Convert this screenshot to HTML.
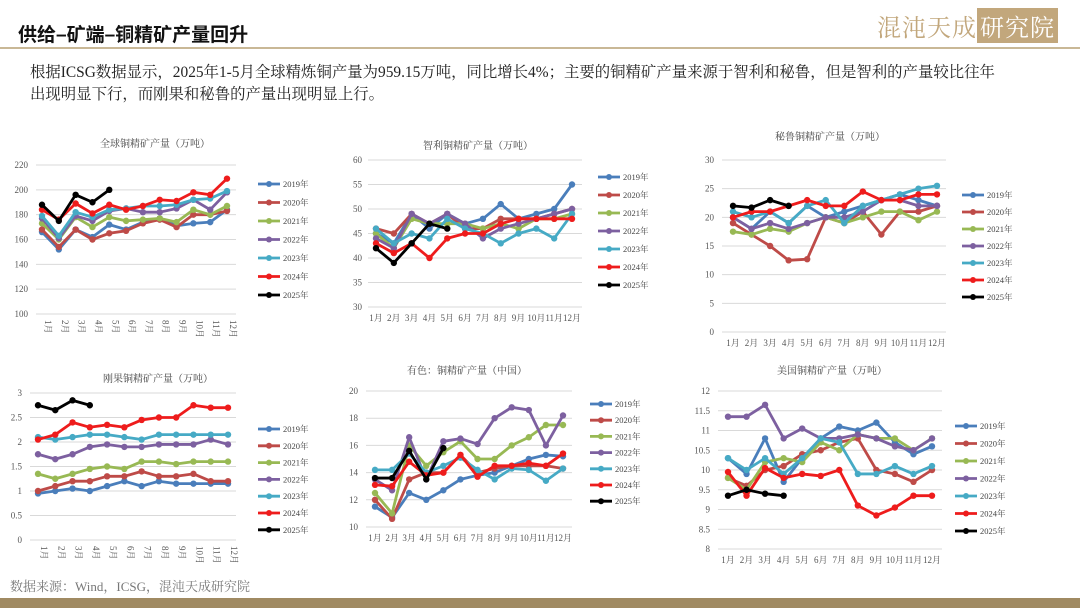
<!DOCTYPE html>
<html><head><meta charset="utf-8">
<style>
body{margin:0;width:1080px;height:608px;background:#fff;overflow:hidden;font-family:"Liberation Serif","Noto Serif CJK SC",serif;position:relative}
.t{position:absolute;left:18px;top:20px;font-size:19px;font-weight:bold;font-family:"Liberation Sans","Noto Sans CJK SC",sans-serif;color:#111}
.line{position:absolute;left:0;top:47px;width:1080px;height:2px;background:#c9b896}
.logo{position:absolute;right:22px;top:8px;height:30px;font-size:24px;color:#c2a77c;font-family:"Noto Serif CJK SC",serif;letter-spacing:1px}
.logo span{background:#c2a77c;color:#fff;padding:0 3px}
.p{position:absolute;left:30px;top:62px;font-size:15.4px;line-height:22px;color:#222;width:1040px;white-space:nowrap}
.src{position:absolute;left:10px;top:576px;font-size:13px;color:#777}
.bot{position:absolute;left:0;top:598px;width:1080px;height:10px;background:#a08a62}
svg{position:absolute;left:0;top:0}
</style></head><body>
<div class="t">供给–矿端–铜精矿产量回升</div>
<div class="line"></div>
<div class="logo">混沌天成<span>研究院</span></div>
<div class="p">根据ICSG数据显示，2025年1-5月全球精炼铜产量为959.15万吨，同比增长4%；主要的铜精矿产量来源于智利和秘鲁，但是智利的产量较比往年<br>出现明显下行，而刚果和秘鲁的产量出现明显上行。</div>
<div class="src">数据来源：Wind，ICSG，混沌天成研究院</div>
<div class="bot"></div>
<svg id="s" width="1080" height="608" font-family="Liberation Serif, Noto Serif CJK SC, serif"></svg>
<script>
const C=['#4a7ebb','#be4b48','#98b954','#7d60a0','#46aac5','#ee1c1c','#000'];
const Y=['2019年','2020年','2021年','2022年','2023年','2024年','2025年'];
const charts=[
{t:'全球铜精矿产量（万吨）',tx:155,ty:147,x0:42,x1:227,ymin:100,ymax:220,yb:314,yt:165,st:20,lx:28,gl:36,gr:236,rot:1,legx:258,legy:184,legd:18.5,
d:[[166,152,168,162,172,168,174,177,171,173,174,184],[168,154,168,160,165,167,173,176,170,180,180,183],[173,160,178,170,178,175,176,177,174,184,180,187],[177,161,179,175,183,185,182,182,185,192,184,198],[179,163,182,178,184,185,187,187,188,192,193,199],[184,176,189,181,188,184,187,192,191,198,196,209],[188,175,196,190,200]]},
{t:'智利铜精矿产量（万吨）',tx:478,ty:149,x0:376,x1:572,ymin:30,ymax:60,yb:307,yt:160,st:5,lx:362,gl:368,gr:582,rot:0,legx:598,legy:177,legd:18,
d:[[45,43,49,46,49,47,48,51,48,49,50,55],[46,45,49,47,49,46,46,48,48,48,49,50],[45,42,48,47,47,47,46,47,46,48,48,49],[44,42,49,47,49,47,44,46,47,48,49,50],[46,43,45,44,48,46,45,43,45,46,44,49],[43,41,43,40,44,45,45,47,48,48,48,48],[42,39,43,47,46]]},
{t:'秘鲁铜精矿产量（万吨）',tx:830,ty:140,x0:733,x1:937,ymin:0,ymax:30,yb:332,yt:160,st:5,lx:714,gl:722,gr:946,rot:0,legx:962,legy:195,legd:17,
d:[[20,18,21,19,22,20,21,22,23,24,23,22],[19,17,15,12.5,12.7,20,19,21,17,21,21,22],[17.5,17,18,17.5,19,20,19,20,21,21,19.5,21],[20,18,19,18,19,20,20,21,23,23,22,22],[21,20,21,19,22,23,19,22,23,24,25,25.5],[20,21,21,22,23,22,22,24.5,23,23,24,24],[22,21.7,23,22]]},
{t:'刚果铜精矿产量（万吨）',tx:158,ty:382,x0:38,x1:228,ymin:0,ymax:3,yb:540,yt:393,st:0.5,lx:22,gl:30,gr:236,rot:1,legx:258,legy:429,legd:16.8,
d:[[0.95,1.0,1.05,1.0,1.1,1.2,1.1,1.2,1.15,1.15,1.15,1.15],[1.0,1.1,1.2,1.2,1.3,1.3,1.4,1.3,1.3,1.35,1.2,1.2],[1.35,1.25,1.35,1.45,1.5,1.45,1.6,1.6,1.55,1.6,1.6,1.6],[1.75,1.65,1.75,1.9,1.95,1.9,1.9,1.95,1.95,1.95,2.05,1.95],[2.1,2.05,2.1,2.15,2.15,2.1,2.05,2.15,2.15,2.15,2.15,2.15],[2.05,2.15,2.4,2.3,2.35,2.3,2.45,2.5,2.5,2.75,2.7,2.7],[2.75,2.65,2.85,2.75]]},
{t:'有色：铜精矿产量（中国）',tx:467,ty:374,x0:375,x1:563,ymin:10,ymax:20,yb:527,yt:391,st:2,lx:358,gl:366,gr:572,rot:0,legx:590,legy:404,legd:16.2,
d:[[11.5,10.7,12.5,12,12.7,13.5,13.8,14,14.5,15,15.3,15.2],[12,10.6,13.5,14,14,15.3,14,14.3,14.5,14.5,14.5,14.3],[12.5,11,16,14.5,15.5,16.3,15,15,16,16.6,17.5,17.5],[13.5,12.7,16.6,13.5,16.3,16.5,16.1,18,18.8,18.6,16,18.2],[14.2,14.2,15.4,14,14.5,15.1,14.2,13.5,14.3,14.2,13.4,14.3],[13.1,13,14.8,13.8,14,15.3,13.7,14.5,14.5,14.7,14.5,15.4],[13.6,13.6,15.6,13.5,15.8]]},
{t:'美国铜精矿产量（万吨）',tx:832,ty:374,x0:728,x1:932,ymin:8,ymax:12,yb:549,yt:391,st:0.5,lx:710,gl:718,gr:942,rot:0,legx:955,legy:426,legd:17.5,
d:[[10.3,9.9,10.8,9.7,10.3,10.8,11.1,11,11.2,10.7,10.4,10.6],[9.8,9.6,10,10.1,10.4,10.5,10.7,10.8,10,9.9,9.7,10],[9.8,9.5,10.2,10.3,10.2,10.7,10.5,10.9,10.8,10.8,10.5,10.8],[11.35,11.35,11.65,10.8,11.05,10.8,10.8,10.9,10.8,10.6,10.5,10.8],[10.3,10,10.3,9.9,10.3,10.8,10.7,9.9,9.9,10.1,9.9,10.1],[9.95,9.35,10.05,9.8,9.9,9.85,10,9.1,8.85,9.05,9.35,9.35],[9.35,9.5,9.4,9.35]]}
];
let h='';
for(const c of charts){
 const yv=v=>c.yb-(v-c.ymin)/(c.ymax-c.ymin)*(c.yb-c.yt);
 const xv=i=>c.x0+i*(c.x1-c.x0)/11;
 h+=`<text x="${c.tx}" y="${c.ty}" font-size="10" fill="#444" text-anchor="middle">${c.t}</text>`;
 for(let v=c.ymin;v<=c.ymax+1e-9;v+=c.st){const y=yv(v);
  h+=`<line x1="${c.gl}" x2="${c.gr}" y1="${y}" y2="${y}" stroke="#d9d9d9" stroke-width="1"/>`;
  h+=`<text x="${c.lx}" y="${y+3}" font-size="9" fill="#555" text-anchor="end">${Math.round(v*10)/10}</text>`;}
 for(let i=0;i<12;i++){const x=xv(i);
  if(c.rot)h+=`<text transform="translate(${x+3},${c.yb+6}) rotate(90)" font-size="9" fill="#555">${i+1}月</text>`;
  else h+=`<text x="${x}" y="${c.yb+14}" font-size="9" fill="#555" text-anchor="middle">${i+1}月</text>`;}
 c.d.forEach((s,k)=>{
  const pts=s.map((v,i)=>xv(i)+','+yv(v)).join(' ');
  h+=`<polyline points="${pts}" fill="none" stroke="${C[k]}" stroke-width="2.8" stroke-linejoin="round"/>`;
  s.forEach((v,i)=>h+=`<circle cx="${xv(i)}" cy="${yv(v)}" r="3.2" fill="${C[k]}"/>`);
  const ly=c.legy+k*c.legd;
  h+=`<line x1="${c.legx}" x2="${c.legx+22}" y1="${ly}" y2="${ly}" stroke="${C[k]}" stroke-width="2.8"/><circle cx="${c.legx+11}" cy="${ly}" r="3" fill="${C[k]}"/>`;
  h+=`<text x="${c.legx+25}" y="${ly+3}" font-size="8.5" fill="#444">${Y[k]}</text>`;
 });
}
document.getElementById('s').innerHTML=h;
</script>
</body></html>
